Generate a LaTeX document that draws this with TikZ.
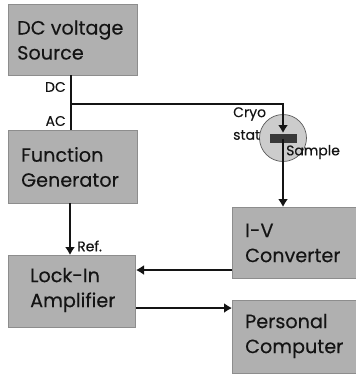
\documentclass[tikz,border=0pt]{standalone}
\usepackage{fontspec}
\setmainfont[FakeBold=0.25]{Poppins}
\usetikzlibrary{arrows.meta}
\definecolor{boxgray}{gray}{0.69}
\definecolor{circgray}{gray}{0.80}
\definecolor{samplegray}{gray}{0.22}
\definecolor{inkc}{gray}{0.08}
\tikzset{
 x=1pt,y=-1pt,
 blockbox/.style={fill=boxgray,draw=boxgray!80!black,line width=0.5pt,anchor=north west,inner sep=0pt},
 blocktext/.style={anchor=west,align=left,inner sep=0pt,text=inkc,font=\fontsize{19.2}{25}\selectfont},
 smalltext/.style={inner sep=0pt,text=inkc,font=\fontsize{14}{15}\selectfont},
 wire/.style={draw=inkc,line width=1.4pt},
 arrowwire/.style={wire,-{Latex[length=8pt,width=10pt]}},
}
\begin{document}
\begin{tikzpicture}
\useasboundingbox (0,0) rectangle (356,378);
\node[blockbox,minimum width=129pt,minimum height=71pt] (dc) at (8,4) {};
\node[blockbox,minimum width=129pt,minimum height=73pt] (fg) at (8,130) {};
\node[blockbox,minimum width=127pt,minimum height=72pt] (li) at (8,255) {};
\node[blockbox,minimum width=124pt,minimum height=71pt] (iv) at (232,207) {};
\node[blockbox,minimum width=124pt,minimum height=73pt] (pc) at (232,300) {};
\node[blocktext] (dct) at (17,40) {DC voltage\\Source};
\node[blocktext] (fgt) at (21,167) {Function\\Generator};
\node[blocktext] (lit) at (30,290) {Lock-In\\Amplifier};
\node[blocktext] (ivt) at (245,243) {I-V\\Converter};
\node[blocktext] (pct) at (245,336) {Personal\\Computer};
\node[circle,fill=circgray,draw=inkc!70,line width=0.7pt,minimum size=47pt,inner sep=0pt] (cryo) at (283,138) {};
\node[fill=samplegray,minimum width=27pt,minimum height=9pt,inner sep=0pt] (sample) at (283,138.5) {};
\coordinate (junction) at (71,104);
\coordinate (corner) at (283,104);
\coordinate (sampletop) at (283,133);
\coordinate (fgout) at (70,203);
\coordinate (liin) at (70,255);
\coordinate (ivout) at (232,270);
\coordinate (liright) at (136,270);
\coordinate (liout) at (136,308);
\coordinate (pcin) at (232,308);
\draw[wire] (71,75) -- (junction);
\draw[wire] (junction) -- (71,130);
\draw[arrowwire] (junction) -- (corner) -- (sampletop);
\draw[arrowwire] (sample.center) -- (iv.north -| sample.center);
\draw[arrowwire] (fgout) -- (liin);
\draw[arrowwire] (ivout) -- (liright);
\draw[arrowwire] (liout) -- (pcin);
\node[smalltext,anchor=east] (dcl) at (66,87) {DC};
\node[smalltext,anchor=east] (acl) at (66,121) {AC};
\node[smalltext,anchor=west] (ref) at (77,246) {Ref.};
\node[smalltext,anchor=west] (cr1) at (233,114) {Cryo};
\node[smalltext,anchor=west] (cr2) at (233,135) {stat};
\node[smalltext,anchor=west] (sl) at (286,152) {Sample};
\end{tikzpicture}
\end{document}
